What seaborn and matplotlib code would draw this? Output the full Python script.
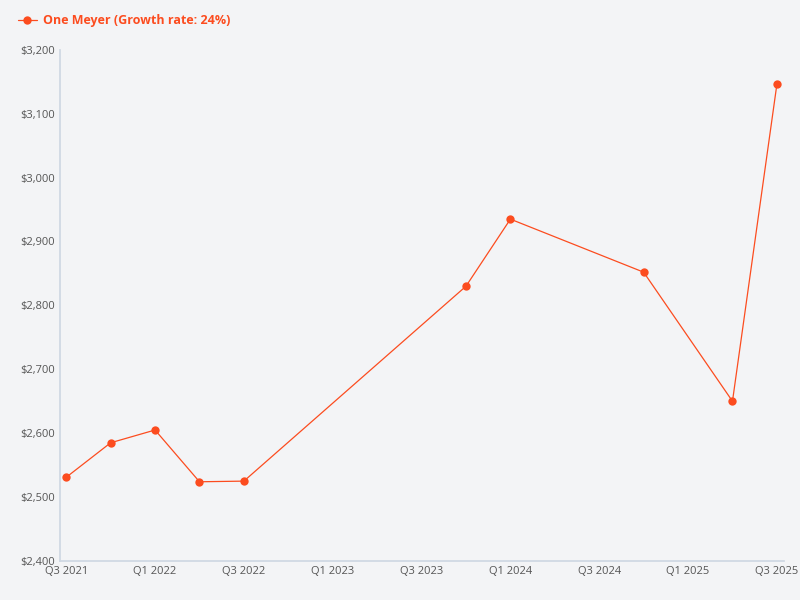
import matplotlib
matplotlib.use("Agg")
import matplotlib.pyplot as plt
import pandas as pd
import seaborn as sns

QUARTERS = ["Q3 2021", "Q4 2021", "Q1 2022", "Q2 2022", "Q3 2022",
            "Q4 2023", "Q1 2024", "Q4 2024", "Q2 2025", "Q3 2025"]
VALUES = [2531, 2585, 2605, 2524, 2525, 2830, 2935, 2852, 2650, 3146]
TICK_LABELS = ["Q3 2021", "Q1 2022", "Q3 2022", "Q1 2023", "Q3 2023",
               "Q1 2024", "Q3 2024", "Q1 2025", "Q3 2025"]
COLOR = "#fc4c1f"
BG = "#f3f4f6"


def quarter_index(label: str) -> float:
    q, year = label.split()
    return int(year) + (int(q[1]) - 1) / 4


df = pd.DataFrame({"quarter": QUARTERS, "value": VALUES})
df["x"] = df["quarter"].map(quarter_index)

sns.set_theme(style="white")
plt.rcParams["font.family"] = ["Open Sans", "DejaVu Sans"]

fig, ax = plt.subplots(figsize=(8, 6), dpi=100)
fig.patch.set_facecolor(BG)
ax.set_facecolor(BG)

sns.lineplot(data=df, x="x", y="value", color=COLOR, linewidth=0.9,
             marker="o", markersize=6, markeredgewidth=0,
             label="One Meyer (Growth rate: 24%)", ax=ax)

ticks = [quarter_index(t) for t in TICK_LABELS]
ax.set_xticks(ticks)
ax.set_xticklabels(TICK_LABELS)
ax.set_xlim(ticks[0] - 0.035, ticks[-1] + 0.04)
ax.set_ylim(2400, 3200)
ax.set_yticks(range(2400, 3201, 100))
ax.set_yticklabels([f"${v:,}" for v in range(2400, 3201, 100)])
ax.set_xlabel("")
ax.set_ylabel("")
ax.tick_params(axis="both", labelsize=8, colors="#555555", length=0)

for side in ["top", "right"]:
    ax.spines[side].set_visible(False)
ax.spines["left"].set_color("#cfd8e3")
ax.spines["bottom"].set_color("#cfd8e3")

leg = ax.legend(loc="upper left", bbox_to_anchor=(-0.065, 1.08), frameon=False,
                fontsize=9, handlelength=1.5, handletextpad=0.5, borderaxespad=0)
for text in leg.get_texts():
    text.set_color(COLOR)
    text.set_fontweight("bold")

fig.subplots_adjust(left=0.075, right=0.98, top=0.917, bottom=0.065)
fig.savefig("out.png", dpi=100, facecolor=BG)
